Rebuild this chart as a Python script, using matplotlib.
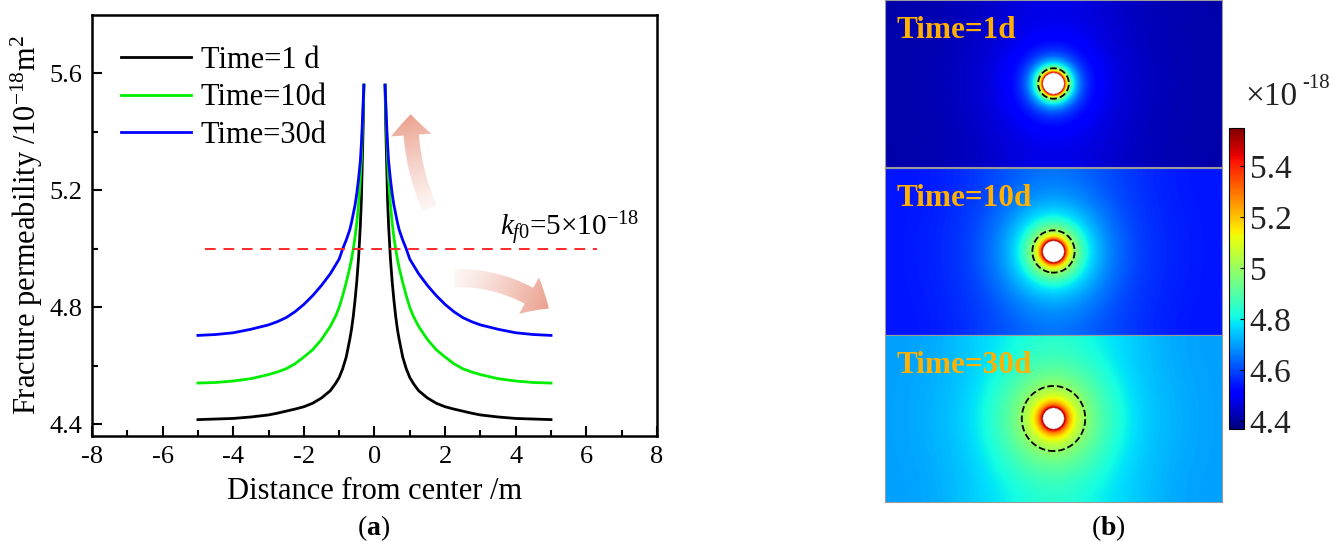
import numpy as np
import matplotlib
matplotlib.use('Agg')
import matplotlib.pyplot as plt
from matplotlib.patches import FancyArrowPatch
from matplotlib.colors import to_rgb

plt.rcParams['font.family'] = 'Liberation Serif'
plt.rcParams['mathtext.fontset'] = 'custom'
plt.rcParams['mathtext.rm'] = 'Liberation Serif'
plt.rcParams['mathtext.it'] = 'Liberation Serif:italic'
plt.rcParams['mathtext.bf'] = 'Liberation Serif:bold'
plt.rcParams['axes.unicode_minus'] = False

# distance from well center (m); nan splits the two branches across the well
dist = [-5.0, -4.5, -4.0, -3.5, -3.0, -2.75, -2.5, -2.25, -2.0, -1.75, -1.5, -1.25, -1.1, -1.0,
        -0.9, -0.8, -0.7, -0.65, -0.6, -0.55, -0.5, -0.45, -0.4, -0.37, -0.35, -0.32, -0.3,
        np.nan,
        0.3, 0.32, 0.35, 0.37, 0.4, 0.45, 0.5, 0.55, 0.6, 0.65, 0.7, 0.8, 0.9, 1.0, 1.1,
        1.25, 1.5, 1.75, 2.0, 2.25, 2.5, 2.75, 3.0, 3.5, 4.0, 4.5, 5.0]

# fracture permeability (1e-18 m2)
k_1d = [4.416, 4.418, 4.42, 4.425, 4.432, 4.438, 4.445, 4.452, 4.46, 4.472, 4.49, 4.515, 4.54,
        4.56, 4.59, 4.63, 4.69, 4.725, 4.77, 4.825, 4.89, 4.97, 5.08, 5.17, 5.27, 5.42, 5.56,
        np.nan,
        5.56, 5.42, 5.27, 5.17, 5.08, 4.97, 4.89, 4.825, 4.77, 4.725, 4.69, 4.63, 4.59, 4.56, 4.54,
        4.515, 4.49, 4.472, 4.46, 4.452, 4.445, 4.438, 4.432, 4.425, 4.42, 4.418, 4.416]
k_10d = [4.541, 4.543, 4.548, 4.556, 4.57, 4.579, 4.59, 4.607, 4.63, 4.655, 4.69, 4.735, 4.77,
         4.80, 4.84, 4.885, 4.935, 4.965, 5.0, 5.04, 5.09, 5.155, 5.24, 5.31, 5.38, 5.48, 5.56,
         np.nan,
         5.56, 5.48, 5.38, 5.31, 5.24, 5.155, 5.09, 5.04, 5.0, 4.965, 4.935, 4.885, 4.84, 4.80, 4.77,
         4.735, 4.69, 4.655, 4.63, 4.607, 4.59, 4.579, 4.57, 4.556, 4.548, 4.543, 4.541]
k_30d = [4.704, 4.707, 4.713, 4.725, 4.74, 4.751, 4.765, 4.785, 4.81, 4.84, 4.875, 4.915, 4.945,
         4.965, 5.0, 5.03, 5.065, 5.09, 5.12, 5.15, 5.19, 5.24, 5.30, 5.36, 5.41, 5.50, 5.56,
         np.nan,
         5.56, 5.50, 5.41, 5.36, 5.30, 5.24, 5.19, 5.15, 5.12, 5.09, 5.065, 5.03, 5.0, 4.965, 4.945,
         4.915, 4.875, 4.84, 4.81, 4.785, 4.765, 4.751, 4.74, 4.725, 4.713, 4.707, 4.704]

labels = ['Time=1 d', 'Time=10d', 'Time=30d']
map_labels = ['Time=1d', 'Time=10d', 'Time=30d']
colors = ['black', '#00ee00', '#0000ff']
series = [k_1d, k_10d, k_30d]
k0 = 5.0
cbar_ticks = [4.4, 4.6, 4.8, 5.0, 5.2, 5.4]
cbar_ticklabels = ['4.4', '4.6', '4.8', '5', '5.2', '5.4']

fig = plt.figure(figsize=(13.35, 5.42), dpi=100)

# ---------------- (a) line plot ----------------
ax = fig.add_axes([0.0689, 0.1956, 0.4232, 0.7768])
for k, c, lab in zip(series, colors, labels):
    ax.plot(dist, k, color=c, lw=2.0, label=lab)
ax.plot([-4.8, 6.3], [k0, k0], color='#ff2a2a', lw=1.4, dashes=(5.5, 4))
ax.text(3.55, 5.045, r'$k_{f0}$=5×10$^{-18}$', fontsize=21)

ax.set_xlim(-8, 8)
ax.set_ylim(4.36, 5.8)
ax.set_xticks(np.arange(-8, 9, 2))
ax.set_xticks(np.arange(-7, 8, 2), minor=True)
ax.set_yticks([4.4, 4.8, 5.2, 5.6])
ax.set_yticks([4.6, 5.0, 5.4], minor=True)
ax.tick_params(which='both', direction='in', width=1.5, labelsize=19, pad=7,
               top=False, right=False)
ax.tick_params(which='major', length=7)
ax.tick_params(which='minor', length=4.5)
for s in ax.spines.values():
    s.set_linewidth(1.8)
ax.set_xlabel('Distance from center /m', fontsize=22, labelpad=7)
ax.set_ylabel(r'Fracture permeability /10$^{-18}$m$^2$', fontsize=22, labelpad=3)
ax.legend(loc='upper left', bbox_to_anchor=(0.03, 0.955), frameon=False, fontsize=22,
          handlelength=2.3, labelspacing=0.27, handletextpad=0.3, borderaxespad=0)


def fade_arrow(ax, p0, p1, rad, style, color='#e8937d'):
    arr = FancyArrowPatch(p0, p1, arrowstyle=style, connectionstyle='arc3,rad=%s' % rad,
                          fc='none', ec='none', lw=0, zorder=1)
    ax.add_patch(arr)
    to_ax = ax.transData + ax.transAxes.inverted()
    a0 = to_ax.transform(p0)
    a1 = to_ax.transform(p1)
    u, v = np.meshgrid(np.linspace(0, 1, 500), np.linspace(0, 1, 400))
    w, h = 565.0, 421.0
    dx, dy = (a1[0] - a0[0]) * w, (a1[1] - a0[1]) * h
    t = ((u - a0[0]) * w * dx + (v - a0[1]) * h * dy) / (dx ** 2 + dy ** 2)
    t = np.clip(t, 0, 1)
    rgba = np.zeros(u.shape + (4,))
    rgba[..., :3] = to_rgb(color)
    rgba[..., 3] = 0.08 + 0.82 * t ** 1.2
    im = ax.imshow(rgba, extent=[0, 1, 0, 1], transform=ax.transAxes, origin='lower',
                   aspect='auto', zorder=1, interpolation='bilinear')
    im.set_clip_path(arr)


fade_arrow(ax, (1.6, 5.13), (1.03, 5.47), -0.12,
           'simple,head_length=15,head_width=29,tail_width=11')
fade_arrow(ax, (2.2, 4.90), (5.0, 4.79), -0.18,
           'simple,head_length=17,head_width=30,tail_width=13')
ax.set_xlim(-8, 8)
ax.set_ylim(4.36, 5.8)

# ---------------- (b) permeability maps ----------------
vmin, vmax = 4.37, 5.55
d_arr = np.array(dist)
right = d_arr > 0
gx = np.linspace(-4.8, 4.8, 600)
gy = np.linspace(-2.4, 2.4, 300)
GX, GY = np.meshgrid(gx, gy)
R = np.sqrt(GX ** 2 + GY ** 2)
# mirrored wells across the top/bottom edges give the vertical banding of the maps
R_up = np.sqrt(GX ** 2 + (GY - 4.8) ** 2)
R_dn = np.sqrt(GX ** 2 + (GY + 4.8) ** 2)

cmap = plt.get_cmap('jet').copy()
cmap.set_bad('white')
tops = [1 - 167 / 542, 1 - 335 / 542, 1 - 502 / 542]
for i, k in enumerate(series):
    kk = np.array(k)
    xr, kr = d_arr[right], kk[right]
    far = kr[-1]
    F = far + sum(np.interp(rr, xr, kr) - far for rr in (R, R_up, R_dn))
    F[R < 0.3] = np.nan
    bx = fig.add_axes([885 / 1335, tops[i], 337 / 1335, 167 / 542])
    im = bx.imshow(np.ma.masked_invalid(F), extent=[-4.8, 4.8, -2.4, 2.4], origin='lower',
                   cmap=cmap, vmin=vmin, vmax=vmax, aspect='auto', interpolation='bilinear')
    bx.contour(GX, GY, F, levels=[k0], colors='k', linewidths=1.3, linestyles='--')
    bx.set_xticks([])
    bx.set_yticks([])
    for s in bx.spines.values():
        s.set_color('#9a9a9a')
        s.set_linewidth(0.8)
    bx.text(0.035, 0.82, map_labels[i], transform=bx.transAxes, fontsize=22.5,
            fontweight='bold', color='#ffb000', va='center', ha='left')

cax = fig.add_axes([1229 / 1335, 0.2085, 15 / 1335, 0.5554])
cb = fig.colorbar(im, cax=cax, ticks=cbar_ticks)
cb.ax.set_yticklabels(cbar_ticklabels)
cb.ax.tick_params(direction='in', length=3, width=0.8, labelsize=24, pad=4,
                  labelcolor='#222222')
cb.outline.set_linewidth(0.8)
fig.text(1245 / 1335, 1 - 97 / 542, '×10', fontsize=24, ha='left', va='center', color='#222222')
fig.text(1302 / 1335, 1 - 84 / 542, '-18', fontsize=15, ha='left', va='center', color='#222222')

fig.text(374 / 1335, 1 - 528 / 542, r'($\mathbf{a}$)', fontsize=20, ha='center', va='center')
fig.text(1108 / 1335, 1 - 528 / 542, r'($\mathbf{b}$)', fontsize=20, ha='center', va='center')

fig.savefig('out.png', dpi=100)
